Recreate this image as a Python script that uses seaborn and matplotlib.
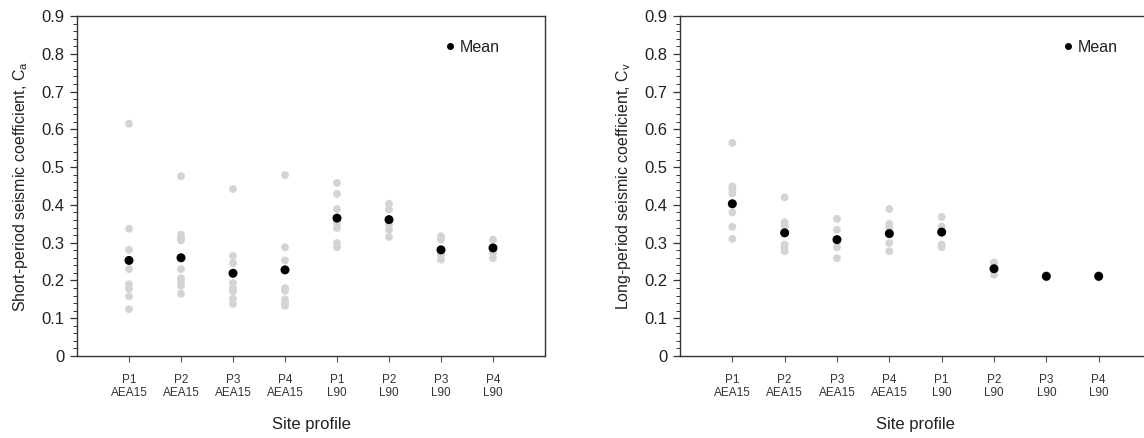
import matplotlib
matplotlib.use("Agg")
import matplotlib.pyplot as plt
from matplotlib.lines import Line2D
from matplotlib.ticker import MultipleLocator, FuncFormatter
import numpy as np
import pandas as pd
import seaborn as sns

# Site profiles (profile / soil model)
sites = ["P1\nAEA15", "P2\nAEA15", "P3\nAEA15", "P4\nAEA15",
         "P1\nL90", "P2\nL90", "P3\nL90", "P4\nL90"]

# Short-period seismic coefficient Ca, one list per site profile (individual motions)
short_values = [
    [0.615, 0.337, 0.281, 0.253, 0.230, 0.190, 0.178, 0.158, 0.124],
    [0.476, 0.321, 0.312, 0.306, 0.260, 0.230, 0.206, 0.197, 0.186, 0.165],
    [0.442, 0.265, 0.246, 0.219, 0.193, 0.180, 0.171, 0.151, 0.138],
    [0.479, 0.288, 0.253, 0.228, 0.180, 0.173, 0.150, 0.141, 0.133],
    [0.458, 0.429, 0.389, 0.365, 0.352, 0.339, 0.299, 0.288],
    [0.403, 0.388, 0.361, 0.348, 0.334, 0.315],
    [0.317, 0.308, 0.281, 0.268, 0.255],
    [0.308, 0.286, 0.273, 0.259],
]
short_means = [0.253, 0.260, 0.219, 0.228, 0.365, 0.361, 0.281, 0.286]

# Long-period seismic coefficient Cv
long_values = [
    [0.564, 0.449, 0.441, 0.430, 0.403, 0.380, 0.342, 0.310],
    [0.420, 0.354, 0.343, 0.326, 0.295, 0.286, 0.277],
    [0.363, 0.334, 0.308, 0.288, 0.259],
    [0.389, 0.350, 0.337, 0.324, 0.299, 0.277],
    [0.368, 0.343, 0.328, 0.295, 0.288],
    [0.248, 0.231, 0.215],
    [0.214, 0.211, 0.208],
    [0.214, 0.211, 0.208],
]
long_means = [0.403, 0.326, 0.308, 0.324, 0.328, 0.231, 0.211, 0.211]

sns.set_style("white")
plt.rcParams["font.family"] = ["Liberation Sans", "DejaVu Sans"]
plt.rcParams["mathtext.default"] = "regular"

TEXT = "#222222"
GRAY = "#d4d4d4"

fig = plt.figure(figsize=(11.44, 4.38), dpi=100)
W, H = 1144, 438
ax_left = fig.add_axes([77 / W, (H - 356) / H, 468 / W, 340 / H])
ax_right = fig.add_axes([680 / W, (H - 356) / H, 471 / W, 340 / H])


def tidy(values, means):
    rows = []
    for i, vals in enumerate(values):
        for v in vals:
            rows.append({"site": i + 1, "value": v})
    pts = pd.DataFrame(rows)
    mean_df = pd.DataFrame({"site": np.arange(1, len(means) + 1), "value": means})
    return pts, mean_df


def fmt_tick(v, _pos):
    return "0" if abs(v) < 1e-9 else f"{v:.1f}"


def draw_panel(ax, values, means, ylabel, legend_x):
    pts, mean_df = tidy(values, means)
    sns.scatterplot(data=pts, x="site", y="value", ax=ax, color=GRAY,
                    s=32, edgecolor="none", linewidth=0, legend=False, zorder=2)
    sns.scatterplot(data=mean_df, x="site", y="value", ax=ax, color="black",
                    s=42, edgecolor="none", linewidth=0, legend=False, zorder=3)

    ax.set_xlim(0, 9)
    ax.set_ylim(0, 0.9)
    ax.set_xticks(np.arange(1, len(sites) + 1))
    ax.set_xticklabels(sites, fontsize=8.5, color="#333333", linespacing=1.15)
    ax.set_yticks(np.round(np.arange(0, 0.91, 0.1), 1))
    ax.yaxis.set_major_formatter(FuncFormatter(fmt_tick))
    ax.yaxis.set_minor_locator(MultipleLocator(0.02))
    ax.tick_params(axis="y", which="major", direction="out", length=5,
                   width=0.9, color="#333333", pad=4, left=True,
                   labelsize=12, labelcolor=TEXT)
    ax.tick_params(axis="y", which="minor", direction="out", length=3,
                   width=0.7, color="#333333", left=True)
    ax.tick_params(axis="x", which="major", direction="out", length=4,
                   width=0.8, color="#555555", pad=9, bottom=True)

    for side, sp in ax.spines.items():
        sp.set_visible(True)
        sp.set_color("#333333")
        sp.set_linewidth(1.0)

    ax.set_xlabel("Site profile", fontsize=12, color=TEXT, labelpad=13)
    ax.set_ylabel(ylabel, fontsize=11.5, color=TEXT, labelpad=8)

    handle = Line2D([], [], marker="o", color="black", linestyle="none",
                    markersize=4, label="Mean")
    ax.legend(handles=[handle], loc="center right",
              bbox_to_anchor=(legend_x, 0.908), frameon=False,
              fontsize=11.5, handlelength=0.6, handletextpad=0.3,
              borderpad=0, borderaxespad=0, labelcolor=TEXT)


draw_panel(ax_left, short_values, short_means,
           "Short-period seismic coefficient, C$_a$", 0.904)
draw_panel(ax_right, long_values, long_means,
           "Long-period seismic coefficient, C$_v$", 0.93)

fig.savefig("out.png", dpi=100)
